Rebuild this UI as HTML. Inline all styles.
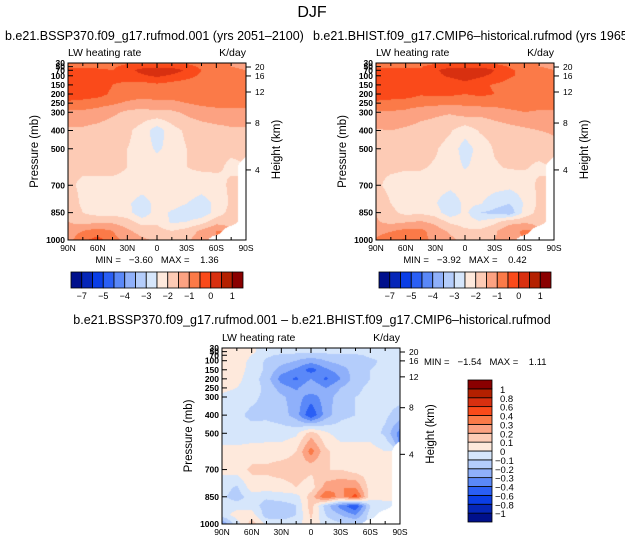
<!DOCTYPE html>
<html><head><meta charset="utf-8">
<style>
html,body{margin:0;padding:0;background:#fff;}
#root{position:relative;width:625px;height:545px;overflow:hidden;font-family:"Liberation Sans",sans-serif;}
canvas{position:absolute;}
svg{position:absolute;left:0;top:0;}
text{font-family:"Liberation Sans",sans-serif;fill:#000;white-space:pre;}
</style></head>
<body>
<div id="root">
<canvas id="c1" width="178" height="177" style="left:68px;top:63px"></canvas>
<canvas id="c2" width="178" height="177" style="left:376px;top:63px"></canvas>
<canvas id="c3" width="178" height="176" style="left:222px;top:348px"></canvas>
<svg id="s" width="625" height="545"></svg>
</div>
<script>
const lats=["90N","75N","60N","45N","30N","15N","0","15S","30S","45S","60S","75S","90S"];
const pres=[30,50,70,100,150,200,250,300,400,500,600,700,800,850,900,950,1000];
const N=NaN;
const sspField=[
[-0.8,-0.8,-0.7,-0.7,-0.6,-0.6,-0.6,-0.6,-0.6,-0.7,-0.8,-1.0,-1.1],
[-0.6,-0.6,-0.6,-0.6,-0.3,-0.2,-0.2,-0.2,-0.3,-0.6,-0.8,-1.0,-1.1],
[-0.3,-0.3,-0.4,-0.5,-0.2,0.2,0.4,0.3,-0.1,-0.5,-0.7,-0.9,-1.0],
[-0.1,-0.1,-0.2,-0.4,-0.3,-0.1,0.1,-0.1,-0.3,-0.6,-0.7,-0.8,-0.9],
[-0.1,-0.1,-0.2,-0.5,-0.6,-0.7,-0.6,-0.7,-0.8,-0.8,-0.8,-0.8,-0.8],
[-0.2,-0.2,-0.3,-0.6,-0.7,-0.8,-0.8,-0.8,-0.8,-0.8,-0.8,-0.8,-0.8],
[-0.6,-0.7,-0.8,-0.9,-1.1,-1.2,-1.1,-1.1,-1.0,-0.9,-0.9,-0.9,-0.9],
[-1.1,-1.1,-1.2,-1.4,-1.6,-1.7,-1.6,-1.6,-1.4,-1.2,-1.1,-1.1,-1.1],
[-1.6,-1.6,-1.7,-1.8,-1.9,-2.2,-2.8,-2.2,-1.9,-1.8,-1.7,-1.6,-1.6],
[-1.8,-1.8,-1.8,-1.9,-2.0,-2.2,-2.6,-2.3,-2.0,-1.9,-1.9,-1.9,-1.9],
[-1.9,-1.9,-1.9,-1.9,-2.0,-2.1,-2.2,-2.2,-2.0,-1.9,-1.9,-2.1,N],
[-1.9,-2.1,-2.1,-2.1,-2.1,-2.2,-2.1,-2.1,-2.2,-2.3,-2.2,-1.9,N],
[-1.7,-2.1,-2.3,-2.2,-2.4,-2.8,-2.3,-2.2,-2.5,-2.7,-2.4,-1.9,N],
[-1.6,-2.0,-2.2,-2.2,-2.3,-2.9,-2.2,-2.6,-2.9,-2.9,-2.3,-1.8,N],
[-1.5,-1.7,-1.6,-1.6,-1.8,-2.2,-2.1,-2.6,-2.5,-2.2,-1.7,-1.6,N],
[-1.3,-1.0,-0.8,-1.0,-1.4,-1.7,-1.8,-2.0,-1.8,-1.4,-1.0,N,N],
[-1.2,-0.6,-0.3,-0.8,-1.2,-1.4,-1.6,-1.7,-1.6,-1.2,N,N,N]];
const histField=[
[-0.8,-0.8,-0.7,-0.7,-0.6,-0.55,-0.55,-0.55,-0.6,-0.7,-0.8,-1.0,-1.1],
[-0.6,-0.6,-0.6,-0.55,-0.25,-0.15,-0.15,-0.15,-0.25,-0.55,-0.8,-1.0,-1.1],
[-0.3,-0.3,-0.4,-0.45,-0.1,0.3,0.5,0.4,0.0,-0.4,-0.65,-0.85,-1.0],
[-0.1,-0.1,-0.2,-0.3,-0.15,0.1,0.3,0.1,-0.15,-0.45,-0.6,-0.75,-0.85],
[-0.1,-0.1,-0.2,-0.4,-0.35,-0.4,-0.2,-0.4,-0.55,-0.65,-0.7,-0.75,-0.75],
[-0.2,-0.2,-0.25,-0.45,-0.4,-0.4,-0.5,-0.4,-0.5,-0.65,-0.7,-0.75,-0.75],
[-0.6,-0.7,-0.75,-0.8,-0.85,-0.9,-0.9,-0.8,-0.8,-0.8,-0.8,-0.85,-0.85],
[-1.1,-1.05,-1.1,-1.3,-1.4,-1.45,-1.25,-1.35,-1.25,-1.1,-1.0,-1.05,-1.05],
[-1.55,-1.5,-1.6,-1.7,-1.75,-1.95,-2.3,-1.95,-1.8,-1.7,-1.6,-1.5,-1.45],
[-1.75,-1.75,-1.75,-1.85,-1.95,-2.2,-2.75,-2.3,-1.95,-1.85,-1.85,-1.8,-1.6],
[-1.9,-1.9,-1.95,-1.95,-2.05,-2.2,-2.55,-2.3,-2.05,-1.95,-1.95,-2.1,N],
[-1.9,-2.15,-2.2,-2.2,-2.25,-2.35,-2.2,-2.2,-2.3,-2.35,-2.25,-1.9,N],
[-1.65,-2.0,-2.35,-2.25,-2.45,-2.9,-2.35,-2.45,-2.8,-3.0,-2.45,-1.9,N],
[-1.5,-1.85,-2.15,-2.1,-2.25,-2.85,-2.35,-3.0,-3.15,-3.35,-2.35,-1.8,N],
[-1.45,-1.65,-1.55,-1.45,-1.65,-2.1,-2.25,-2.45,-2.15,-1.7,-1.6,-1.6,N],
[-1.25,-1.05,-0.85,-0.85,-1.25,-1.6,-1.9,-1.9,-1.6,-1.1,-0.95,N,N],
[-0.9,-0.55,-0.45,-0.8,-1.15,-1.35,-1.7,-1.65,-1.5,-1.1,N,N,N]];
const diffField=[
[0.05,0.05,0.02,-0.05,-0.05,-0.05,-0.05,-0.05,-0.05,-0.05,-0.05,-0.05,-0.05],
[0.05,0.05,0.02,-0.05,-0.05,-0.05,-0.05,-0.05,-0.05,-0.05,-0.05,-0.05,-0.05],
[0.05,0.05,0.0,-0.08,-0.12,-0.15,-0.15,-0.15,-0.12,-0.12,-0.08,-0.05,-0.05],
[0.05,0.04,-0.02,-0.12,-0.15,-0.2,-0.25,-0.2,-0.15,-0.15,-0.12,-0.08,-0.05],
[0.05,0.04,-0.03,-0.12,-0.25,-0.32,-0.45,-0.32,-0.25,-0.15,-0.1,-0.08,-0.05],
[0.05,0.03,-0.05,-0.15,-0.35,-0.42,-0.3,-0.42,-0.3,-0.15,-0.1,-0.08,-0.05],
[0.03,0.0,-0.06,-0.12,-0.25,-0.32,-0.2,-0.3,-0.2,-0.12,-0.08,-0.06,-0.05],
[-0.02,-0.05,-0.08,-0.12,-0.18,-0.25,-0.35,-0.25,-0.15,-0.1,-0.08,-0.06,-0.06],
[-0.05,-0.08,-0.12,-0.12,-0.15,-0.25,-0.5,-0.25,-0.12,-0.1,-0.08,-0.08,-0.15],
[-0.05,-0.06,-0.06,-0.05,-0.05,-0.02,0.15,0.02,-0.05,-0.05,-0.05,-0.12,-0.35],
[0.03,0.03,0.05,0.05,0.05,0.1,0.35,0.12,0.05,0.05,0.05,0.0,N],
[0.02,0.05,0.12,0.12,0.15,0.15,0.12,0.1,0.1,0.05,0.05,0.02,N],
[-0.05,-0.12,0.05,0.05,0.05,0.1,0.05,0.25,0.3,0.3,0.05,0.02,N],
[-0.08,-0.15,-0.05,-0.08,-0.05,-0.05,0.15,0.4,0.25,0.45,0.05,0.02,N],
[-0.05,-0.05,-0.05,-0.15,-0.15,-0.1,0.15,-0.15,-0.35,-0.5,-0.1,-0.02,N],
[-0.05,0.05,0.05,-0.15,-0.15,-0.1,0.12,-0.1,-0.2,-0.3,-0.05,N,N],
[-0.3,-0.05,0.15,-0.02,-0.05,-0.05,0.08,-0.05,-0.08,-0.08,N,N,N]];
const topLevels=[-7,-6,-5,-4.5,-4,-3.5,-3,-2.5,-2,-1.5,-1,-0.5,0,0.5,1];
const topLevelLabels=["-7","","-5","","-4","","-3","","-2","","-1","","0","","1"];
const diffLevels=[-1,-0.8,-0.6,-0.4,-0.3,-0.2,-0.1,0,0.1,0.2,0.3,0.4,0.6,0.8,1];
const diffLevelLabels=["-1","-0.8","-0.6","-0.4","-0.3","-0.2","-0.1","0","0.1","0.2","0.3","0.4","0.6","0.8","1"];
const palette=["#00108c","#0526b8","#0a3ee6","#2a5ff5","#5a88f8","#8fb0fa","#b4cdfb","#d6e6fb","#fee9dc","#fdcbb5","#fca282","#fb7a48","#fa4a1a","#d83010","#b42000","#8a0000"];
const pTicks=[30,50,70,100,150,200,250,300,400,500,700,850,1000];
const pTickLabels=["30","50","70","100","150","200","250","300","400","500","700","850","1000"];
const hTickP=[52,101,189,359,616];
const hTickLabels=["20","16","12","8","4"];
const xMajor=[0,2,4,6,8,10,12];
const xMajorLabels=["90N","60N","30N","0","30S","60S","90S"];

function hex(c){return [parseInt(c.substr(1,2),16),parseInt(c.substr(3,2),16),parseInt(c.substr(5,2),16)];}
function drawField(id,field,levels){
  const cv=document.getElementById(id),ctx=cv.getContext('2d');
  const w=cv.width,h=cv.height,img=ctx.createImageData(w,h);
  const pal=palette.map(hex);
  for(let py=0;py<h;py++){
    const p=30+(py+0.5)/h*970;
    let i=0;while(i<pres.length-2&&pres[i+1]<p)i++;
    const ty=(p-pres[i])/(pres[i+1]-pres[i]);
    for(let px=0;px<w;px++){
      const f=(px+0.5)/w*12;let j=Math.min(11,Math.floor(f));const tx=f-j;
      const cs=[[field[i][j],(1-tx)*(1-ty)],[field[i][j+1],tx*(1-ty)],[field[i+1][j],(1-tx)*ty],[field[i+1][j+1],tx*ty]];
      let s=0,ws=0,wn=0;
      cs.forEach(c=>{if(isNaN(c[0]))wn+=c[1];else{s+=c[0]*c[1];ws+=c[1];}});
      const k=(py*w+px)*4;
      if(wn>0.45||ws===0){img.data[k]=255;img.data[k+1]=255;img.data[k+2]=255;img.data[k+3]=255;continue;}
      const v=s/ws;let idx=0;while(idx<levels.length&&v>=levels[idx])idx++;
      const c=pal[idx];img.data[k]=c[0];img.data[k+1]=c[1];img.data[k+2]=c[2];img.data[k+3]=255;
    }
  }
  ctx.putImageData(img,0,0);
}
drawField('c1',sspField,topLevels);
drawField('c2',histField,topLevels);
drawField('c3',diffField,diffLevels);

const svg=document.getElementById('s');const NS='http://www.w3.org/2000/svg';
function el(tag,attrs,txt){const e=document.createElementNS(NS,tag);for(const k in attrs)e.setAttribute(k,attrs[k]);if(txt!==undefined)e.textContent=txt;svg.appendChild(e);return e;}

function axes(X,Y,W,H,pre){
  const xs=i=>X+i/12*W, yp=p=>Y+(p-30)/970*H;
  const fr=el('rect',{x:X,y:Y,width:W,height:H,fill:'none',stroke:'#000','stroke-width':1});
  
  
  for(let i=0;i<=12;i++){
    const L=(i%2===0)?5:3;
    el('line',{x1:xs(i),x2:xs(i),y1:Y+H,y2:Y+H-L,stroke:'#000','stroke-width':1});
    el('line',{x1:xs(i),x2:xs(i),y1:Y,y2:Y+L,stroke:'#000','stroke-width':1});
  }
  xMajor.forEach((i,n)=>{
    const t=el('text',{x:xs(i),y:Y+H+11,'font-size':8.5,'text-anchor':'middle'},xMajorLabels[n]);
    
    
  });
  pTicks.forEach((p,n)=>{
    el('line',{x1:X,x2:X+5,y1:yp(p),y2:yp(p),stroke:'#000','stroke-width':1});
    const t=el('text',{x:X-3,y:yp(p)+3,'font-size':8.5,'text-anchor':'end','font-weight':'bold'},pTickLabels[n]);
    
    
  });
  hTickP.forEach((p,n)=>{
    el('line',{x1:X+W,x2:X+W+5,y1:yp(p),y2:yp(p),stroke:'#000','stroke-width':1});
    const t=el('text',{x:X+W+9,y:yp(p)+3,'font-size':8.5},hTickLabels[n]);
    
    
  });
  const yl=el('text',{x:0,y:0,'font-size':11.5,'text-anchor':'middle',transform:`translate(${X-30},${Y+H/2}) rotate(-90)`},'Pressure (mb)');
  
  
  const hl=el('text',{x:0,y:0,'font-size':11.5,'text-anchor':'middle',transform:`translate(${X+W+34},${Y+H/2-2}) rotate(-90)`},'Height (km)');
  
  
  const l1=el('text',{x:X,y:Y-7,'font-size':10.5},'LW heating rate');
  
  
  const l2=el('text',{x:X+W,y:Y-7,'font-size':10.5,'text-anchor':'end'},'K/day');
  
  
}
function hbar(X,Y,W,H,pre){
  const bw=W/16;
  palette.forEach((c,i)=>{
    const r=el('rect',{x:X+i*bw,y:Y,width:bw,height:H,fill:c,stroke:'#000','stroke-width':0.8});
    
    
  });
  topLevelLabels.forEach((l,i)=>{if(!l)return;
    const t=el('text',{x:X+(i+1)*bw,y:Y+H+11,'font-size':9,'text-anchor':'middle'},l.replace('-','\u2212'));
    
    
  });
}
const t0=el('text',{x:312,y:17,'font-size':16,'text-anchor':'middle',fill:'#555'},'DJF');


const tt2=el('text',{x:313,y:40,'font-size':12.5},'b.e21.BHIST.f09_g17.CMIP6\u2013historical.rufmod (yrs 1965\u20132014)');


const tt1=el('text',{x:5,y:40,'font-size':12.5},'b.e21.BSSP370.f09_g17.rufmod.001 (yrs 2051\u20132100)');


axes(68,63,178,177,'ssp370');
axes(376,63,178,177,'historical');
axes(222,348,178,176,'difference');
const m1=el('text',{x:157,y:263,'font-size':9.5,'text-anchor':'middle'},'MIN =   \u22123.60   MAX =    1.36');


const m2=el('text',{x:465,y:263,'font-size':9.5,'text-anchor':'middle'},'MIN =   \u22123.92   MAX =    0.42');


hbar(71,272,172,16,'ssp370');
hbar(379,272,172,16,'historical');
const tt3=el('text',{x:312,y:324,'font-size':12.5,'text-anchor':'middle'},'b.e21.BSSP370.f09_g17.rufmod.001 \u2013 b.e21.BHIST.f09_g17.CMIP6\u2013historical.rufmod');


const m3=el('text',{x:424,y:365,'font-size':9.5},'MIN =   \u22121.54   MAX =    1.11');


{
  const X=468,Y=380,W=24,H=142,bh=H/16;
  palette.forEach((c,i)=>{
    const r=el('rect',{x:X,y:Y+H-(i+1)*bh,width:W,height:bh,fill:c,stroke:'#000','stroke-width':0.8});
    
    
  });
  diffLevelLabels.forEach((l,i)=>{
    const t=el('text',{x:X+W+(l[0]==='-'?3:8),y:Y+H-(i+1)*bh+4,'font-size':9.5},l.replace('-','\u2212'));
    
    
  });
}
</script>
</body></html>
